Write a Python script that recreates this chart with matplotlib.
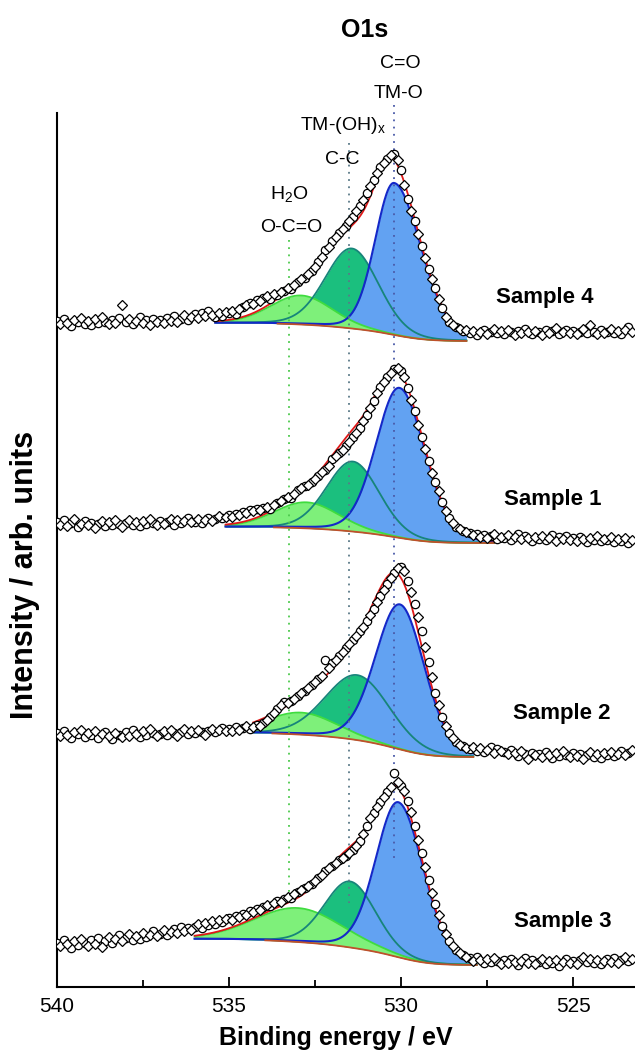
import numpy as np
import matplotlib.pyplot as plt

plt.rcParams['font.family'] = ['Liberation Sans', 'DejaVu Sans']

# binding energy grid of the measurement (eV), 0.1 eV step
energy = np.linspace(540.0, 523.3, 168)

samples = ['Sample 4', 'Sample 1', 'Sample 2', 'Sample 3']
offsets = [646, 444, 230, 22]

# measured O1s counts (arb. units, above the right-hand background)
counts_s4 = [20, 17, 22, 18, 15, 21, 19, 23, 17, 20,
             16, 22, 18, 24, 19, 17, 21, 18, 23, 36,
             19, 22, 17, 20, 24, 18, 21, 16, 22, 19,
             21, 18, 23, 20, 25, 19, 22, 26, 21, 24,
             27, 23, 28, 25, 30, 26, 24, 28, 25, 29,
             28, 30, 27, 32, 34, 36, 38, 37, 41, 40,
             43, 45, 42, 47, 46, 49, 50, 53, 52, 56,
             59, 62, 63, 67, 70, 74, 79, 84, 91, 94,
             100, 104, 108, 112, 115, 120, 124, 130, 135, 141,
             148, 155, 161, 168, 174, 178, 182, 186, 187, 181,
             171, 156, 142, 130, 120, 107, 95, 83, 72, 62,
             53, 42, 33, 24, 19, 16, 14, 12, 10, 11,
             8, 10, 6, 9, 11, 7, 9, 12, 8, 10,
             7, 11, 9, 6, 10, 8, 12, 9, 7, 10,
             9, 6, 11, 8, 10, 13, 7, 9, 11, 8,
             10, 7, 9, 12, 8, 16, 9, 7, 11, 8,
             9, 12, 8, 10, 7, 11, 14, 9]
counts_s1 = [21, 18, 23, 17, 20, 24, 16, 19, 22, 18,
             20, 15, 19, 22, 17, 21, 18, 23, 19, 16,
             20, 23, 18, 21, 17, 22, 19, 24, 20, 18,
             22, 19, 21, 24, 18, 23, 20, 22, 25, 21,
             21, 24, 20, 23, 25, 22, 24, 27, 25, 26,
             28, 26, 29, 28, 31, 30, 33, 32, 34, 33,
             35, 36, 34, 38, 40, 42, 44, 46, 45, 49,
             53, 55, 57, 58, 61, 64, 67, 71, 73, 77,
             84, 87, 90, 93, 97, 101, 106, 110, 115, 122,
             128, 135, 142, 150, 156, 161, 166, 170, 174, 175,
             172, 166, 155, 143, 132, 118, 106, 94, 82, 70,
             61, 52, 41, 32, 25, 20, 16, 14, 12, 11,
             10, 8, 9, 6, 8, 5, 7, 9, 4, 6,
             5, 8, 3, 6, 9, 4, 7, 5, 2, 6,
             4, 7, 3, 5, 8, 2, 6, 4, 7, 3,
             5, 2, 6, 4, 1, 5, 3, 7, 2, 4,
             3, 6, 1, 4, 2, 5, 0, 3]
counts_s2 = [24, 21, 26, 22, 19, 25, 23, 27, 20, 24,
             22, 26, 19, 23, 25, 21, 18, 24, 22, 20,
             25, 21, 27, 23, 20, 26, 22, 28, 24, 21,
             23, 26, 22, 27, 24, 21, 25, 28, 23, 26,
             24, 27, 25, 22, 26, 28, 25, 27, 29, 26,
             28, 26, 30, 27, 29, 31, 28, 30, 32, 31,
             34, 37, 40, 44, 48, 52, 55, 54, 56, 58,
             61, 64, 66, 69, 72, 75, 78, 81, 97, 89,
             94, 97, 101, 105, 109, 113, 117, 121, 126, 130,
             136, 142, 148, 155, 161, 167, 173, 179, 184, 189,
             190, 186, 176, 165, 153, 140, 126, 110, 95, 80,
             64, 52, 40, 31, 24, 19, 15, 12, 11, 9,
             8, 10, 6, 9, 5, 7, 10, 4, 8, 6,
             5, 3, 7, 4, 1, 6, 3, -2, 4, 2,
             3, 0, 5, 2, -1, 4, 1, 6, 2, 0,
             4, 1, 3, -2, 2, 5, 0, 3, -1, 4,
             2, 5, 1, 3, 6, 2, 4, 7]
counts_s3 = [22, 19, 25, 21, 17, 24, 20, 26, 22, 19,
             25, 21, 27, 18, 24, 28, 22, 26, 30, 24,
             27, 31, 25, 29, 26, 32, 28, 30, 34, 29,
             31, 35, 30, 33, 36, 32, 38, 34, 37, 35,
             38, 41, 37, 42, 40, 44, 41, 45, 43, 46,
             47, 45, 49, 48, 51, 50, 54, 53, 56, 55,
             58, 60, 59, 62, 64, 63, 66, 68, 67, 71,
             73, 75, 77, 79, 81, 84, 87, 90, 94, 97,
             99, 102, 105, 107, 109, 112, 115, 119, 124, 131,
             139, 147, 152, 158, 163, 168, 173, 178, 192, 183,
             179, 174, 164, 153, 139, 125, 112, 98, 85, 72,
             61, 50, 39, 31, 24, 19, 15, 12, 10, 8,
             7, 4, 8, 5, 2, 6, 3, 7, 4, 1,
             5, 2, 6, 3, 0, 4, 7, 2, 5, 1,
             3, 6, 1, 4, 2, 5, -1, 3, 6, 2,
             4, 1, 5, 8, 3, 6, 2, 5, 1, 4,
             6, 3, 7, 2, 5, 8, 4, 6]
counts = [counts_s4, counts_s1, counts_s2, counts_s3]

# fitted components (position eV, height, half widths)
tmo_pos = [530.20, 530.05, 530.03, 530.08]
tmo_height = [152, 150, 145, 155]
tmo_hw_high = [0.65, 0.80, 0.84, 0.77]
tmo_hw_low = [0.92, 0.88, 0.84, 0.86]
oh_pos = [531.43, 531.40, 531.27, 531.48]
oh_height = [80, 70, 65, 66]
oh_fwhm = [1.82, 1.8, 2.2, 1.75]
h2o_pos = [532.9, 532.75, 532.9, 533.0]
h2o_height = [29, 26, 22, 34]
h2o_fwhm = [2.1, 2.2, 2.4, 3.0]
bg_left = [18, 16, 24, 26]
fit_start = [535.4, 535.1, 534.3, 536.0]
fit_end = [528.1, 527.3, 527.9, 527.8]
bg_shown_from = [533.6, 533.7, 533.75, 533.95]
label_x = [525.81, 525.58, 525.32, 525.29]


def peak(e, c, h, hw_high, hw_low, eta=0.12):
    hw = np.where(e > c, hw_high, hw_low)
    d = (e - c) / hw
    return h * ((1 - eta) * np.exp(-np.log(2) * d ** 2) + eta / (1 + d ** 2))


fig = plt.figure(figsize=(6.35, 10.52), dpi=100)
ax = fig.add_axes([57 / 635, 1 - 987 / 1052, 1 - 57 / 635, (987 - 113) / 1052])

for i in range(4):
    off = offsets[i]
    e = np.linspace(fit_start[i], fit_end[i], 400)
    tmo = peak(e, tmo_pos[i], tmo_height[i], tmo_hw_high[i], tmo_hw_low[i])
    oh = peak(e, oh_pos[i], oh_height[i], oh_fwhm[i] / 2, oh_fwhm[i] / 2)
    h2o = peak(e, h2o_pos[i], h2o_height[i], h2o_fwhm[i] / 2, h2o_fwhm[i] / 2)
    total = tmo + oh + h2o
    cum = np.cumsum(total[::-1])[::-1]
    bg = off + bg_left[i] * cum / cum[0]

    ax.fill_between(e, bg, bg + oh, color='#1bbf7e', lw=0, zorder=1)
    ax.fill_between(e, bg, bg + tmo, color='#62a2f2', lw=0, zorder=1.1)
    ax.fill_between(e, bg, bg + h2o, color='#7ef07a', lw=0, zorder=1.2)
    ax.plot(e, bg + h2o, color='#3fdc3f', lw=1.3, zorder=2)
    ax.plot(e, bg + oh, color='#17857a', lw=1.3, zorder=2.1)
    ax.plot(e, bg + tmo, color='#1428c8', lw=1.5, zorder=2.2)
    m = e <= bg_shown_from[i]
    ax.plot(e[m], bg[m], color='#c0502a', lw=1.3, zorder=2.3)
    ax.plot(e, bg + total, color='#e01818', lw=1.3, zorder=2.4)

    y = off + np.array(counts[i])
    ax.plot(energy[::2], y[::2], 'o', ms=6, mfc='white', mec='black', mew=0.9, zorder=5)
    ax.plot(energy[1::2], y[1::2], 'D', ms=5, mfc='white', mec='black', mew=0.9, zorder=5)

    ax.text(label_x[i], off + 44, samples[i], ha='center', va='center',
            fontsize=16, fontweight='bold', zorder=6)

# reference positions of the bonds
ax.plot([530.2, 530.2], [882, 127], ls=(0, (1, 3)), color='#4a5aa8', lw=1.3, clip_on=False, zorder=4)
ax.plot([531.5, 531.5], [844, 84], ls=(0, (1, 3)), color='#5a7a88', lw=1.3, clip_on=False, zorder=4)
ax.plot([533.25, 533.25], [747, 94], ls=(0, (1, 3)), color='#4cc94c', lw=1.3, clip_on=False, zorder=4)

ann = dict(ha='center', va='center', fontsize=14, clip_on=False)
ax.text(530.03, 923, 'C=O', **ann)
ax.text(530.06, 894, 'TM-O', **ann)
ax.text(531.69, 861, 'TM-(OH)$_\\mathregular{x}$', **ann)
ax.text(531.72, 827, 'C-C', **ann)
ax.text(533.26, 792, 'H$_\\mathregular{2}$O', **ann)
ax.text(533.2, 759, 'O-C=O', **ann)

ax.set_xlim(540, 523.2)
ax.set_ylim(0, 874)
ax.set_xticks([540, 535, 530, 525])
ax.set_xticks([537.5, 532.5, 527.5], minor=True)
ax.set_yticks([])
ax.tick_params(axis='x', which='major', direction='in', length=7, width=1.3, labelsize=15, pad=7)
ax.tick_params(axis='x', which='minor', direction='in', length=5, width=1.3)
ax.spines['top'].set_visible(False)
ax.spines['right'].set_visible(False)
ax.spines['left'].set_linewidth(1.5)
ax.spines['bottom'].set_linewidth(1.5)

fig.text(365 / 635, 1 - 30 / 1052, 'O1s', ha='center', va='center', fontsize=18, fontweight='bold')
fig.text(336 / 635, 1 - 1038 / 1052, 'Binding energy / eV', ha='center', va='center',
         fontsize=18, fontweight='bold')
fig.text(25 / 635, 1 - 575 / 1052, 'Intensity / arb. units', ha='center', va='center',
         rotation=90, fontsize=22, fontweight='bold')

fig.savefig('out.png', dpi=100)
